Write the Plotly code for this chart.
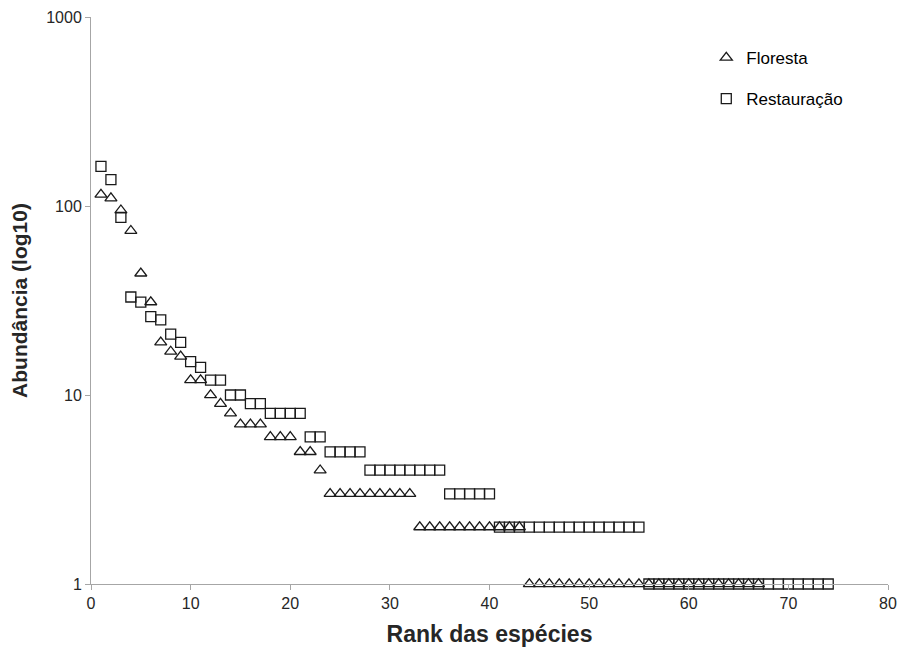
import plotly.graph_objects as go

# Data (rank-abundance)
floresta_abund = [115, 110, 95, 74, 44, 31, 19, 17, 16, 12, 12, 10, 9, 8,
                  7, 7, 7, 6, 6, 6, 5, 5, 4,
                  3, 3, 3, 3, 3, 3, 3, 3, 3,
                  2, 2, 2, 2, 2, 2, 2, 2, 2, 2, 2,
                  1, 1, 1, 1, 1, 1, 1, 1, 1, 1, 1, 1,
                  1, 1, 1, 1, 1, 1, 1, 1, 1, 1, 1, 1]
restauracao_abund = [162, 138, 87, 33, 31, 26, 25, 21, 19, 15, 14, 12, 12, 10, 10,
                     9, 9, 8, 8, 8, 8, 6, 6, 5, 5, 5, 5,
                     4, 4, 4, 4, 4, 4, 4, 4,
                     3, 3, 3, 3, 3,
                     2, 2, 2, 2, 2, 2, 2, 2, 2, 2, 2, 2, 2, 2, 2,
                     1, 1, 1, 1, 1, 1, 1, 1, 1, 1, 1, 1, 1, 1, 1, 1, 1, 1, 1]
floresta_rank = list(range(1, len(floresta_abund) + 1))
restauracao_rank = list(range(1, len(restauracao_abund) + 1))

x_ticks = [0, 10, 20, 30, 40, 50, 60, 70, 80]
y_ticks = [1, 10, 100, 1000]

FONT = "Liberation Sans, Arial, sans-serif"
AXIS_GRAY = "#a6a6a6"
MARK = "#1a1a1a"

fig = go.Figure()
fig.add_trace(go.Scatter(
    x=floresta_rank, y=floresta_abund, mode="markers", name="Floresta",
    legend="legend",
    marker=dict(symbol="triangle-up-open", size=10.5, color=MARK,
                line=dict(width=1.3, color=MARK)),
    cliponaxis=False,
))
fig.add_trace(go.Scatter(
    x=restauracao_rank, y=restauracao_abund, mode="markers", name="Restauração",
    legend="legend2",
    marker=dict(symbol="square-open", size=10, color=MARK,
                line=dict(width=1.3, color=MARK)),
    cliponaxis=False,
))

legend_common = dict(font=dict(family=FONT, size=17, color="#000000"),
                     bgcolor="rgba(0,0,0,0)", borderwidth=0,
                     xanchor="left", yanchor="middle", itemwidth=30)

fig.update_layout(
    width=900, height=649,
    margin=dict(l=91, r=12, t=17, b=65, autoexpand=False),
    paper_bgcolor="white", plot_bgcolor="white",
    font=dict(family=FONT, color="#262626"),
    showlegend=True,
    legend=dict(x=0.772, y=0.9277, **legend_common),
    legend2=dict(x=0.772, y=0.8554, **legend_common),
    xaxis=dict(
        range=[0, 80], tickvals=x_ticks, ticktext=[str(v) for v in x_ticks],
        ticks="outside", ticklen=5, tickcolor=AXIS_GRAY, tickwidth=1,
        showline=True, linecolor=AXIS_GRAY, linewidth=1,
        showgrid=False, zeroline=False,
        tickfont=dict(family=FONT, size=16, color="#262626"),
        title=dict(text="<b>Rank das espécies</b>",
                   font=dict(family=FONT, size=23, color="#262626"),
                   standoff=14),
    ),
    yaxis=dict(
        type="log", range=[0, 3], tickvals=y_ticks, ticktext=[str(v) for v in y_ticks],
        ticks="outside", ticklen=5, tickcolor=AXIS_GRAY, tickwidth=1,
        showline=True, linecolor=AXIS_GRAY, linewidth=1,
        showgrid=False, zeroline=False,
        tickfont=dict(family=FONT, size=16, color="#262626"),
        title=dict(text="<b>Abundância (log10)</b>",
                   font=dict(family=FONT, size=21, color="#262626"),
                   standoff=12),
    ),
)

fig.write_html("out.html")
